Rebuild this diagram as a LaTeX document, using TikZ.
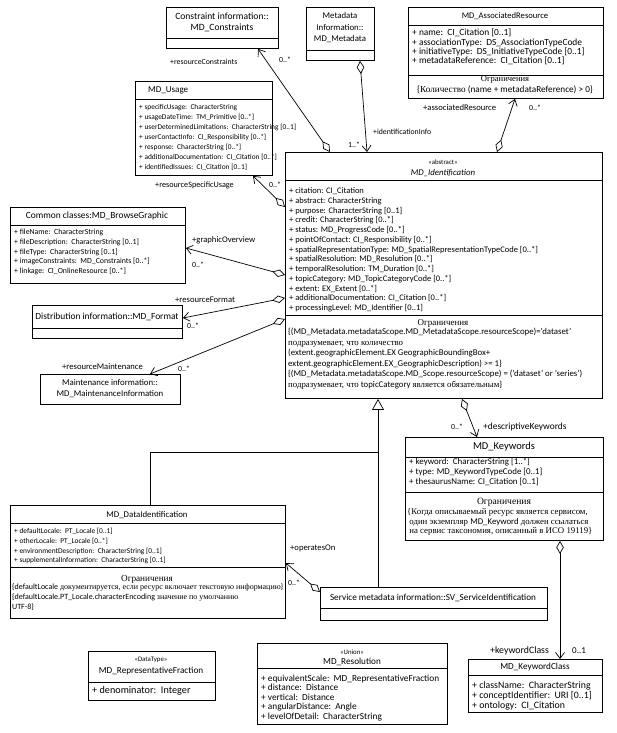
\documentclass[tikz,border=0pt]{standalone}
\usepackage{fontspec}
\setmainfont{Carlito}
\newfontfamily\rufont{Liberation Serif}
\usetikzlibrary{arrows.meta, calc}

% class box and compartment line
\newcommand{\clsbox}[5]{\node[cls, minimum width=#4pt, minimum height=#5pt] (#1) at (#2,#3) {};}
\newcommand{\divln}[2]{\draw[line width=0.9pt] ($(#1.north west)+(0,#2)$) -- ($(#1.north east)+(0,#2)$);}
\newcommand{\fsz}[2]{\fontsize{#1}{#2}\selectfont}

\tikzset{
  cls/.style={draw, line width=0.9pt, inner sep=0pt, anchor=north west},
  ttl/.style={font=\fsz{8.6}{9.75}, align=center, inner sep=0pt},
  stereo/.style={font=\fsz{6.8}{8}, inner sep=0pt},
  att/.style={font=\fsz{8}{9.75}, align=left, anchor=north west, inner sep=0pt},
  lbl/.style={font=\fsz{7.8}{9}, inner sep=0pt, anchor=west},
  assoc/.style={line width=0.7pt, {Diamond[open,length=13pt,width=7.5pt]}-{Straight Barb[length=6pt,width=9pt]}},
  gen/.style={line width=0.7pt, -{Triangle[open,length=11pt,width=12pt]}},
}

\begin{document}
\begin{tikzpicture}[x=1pt, y=-1pt]
\useasboundingbox (0,0) rectangle (616,733);

% boxes
\clsbox{cons}{166}{7}{112}{41}
\divln{cons}{31}
\clsbox{meta}{306}{7}{68}{53}
\divln{meta}{43}
\clsbox{assoc}{408}{7}{195}{91}
\divln{assoc}{18}
\divln{assoc}{68}
\clsbox{usage}{135}{81}{137}{94}
\divln{usage}{18}
\clsbox{ident}{285}{152}{317}{246}
\divln{ident}{28}
\divln{ident}{163}
\clsbox{browse}{10}{207}{175}{76}
\divln{browse}{18}
\clsbox{format}{32}{305}{150}{33}
\divln{format}{23}
\clsbox{maint}{40}{374}{140}{30}
\clsbox{keyw}{405}{437}{198}{103}
\divln{keyw}{20}
\divln{keyw}{55}
\clsbox{dataid}{10}{505}{275}{113}
\divln{dataid}{18}
\divln{dataid}{62}
\clsbox{serv}{320}{587}{227}{33}
\divln{serv}{21}
\clsbox{repfrac}{88}{651}{127}{49}
\divln{repfrac}{31}
\clsbox{resol}{257}{643}{190}{81}
\divln{resol}{25}
\clsbox{kwclass}{468}{659}{134}{53}
\divln{kwclass}{16}

% titles
\node[ttl, font=\fsz{9.6}{10.5}] (consT) at (222,22.5) {Constraint information::\\MD\_Constraints};
\node[ttl, font=\fsz{8.8}{11.5}] (metaT) at (340,28) {Metadata\\Information::\\MD\_Metadata};
\node[ttl] (assocT) at (505,16) {MD\_AssociatedResource};
\node[ttl, anchor=west, font=\fsz{9}{10}] (usageT) at (148,90) {MD\_Usage};
\node[stereo] (identS) at (443,162) {«abstract»};
\node[ttl, font=\fsz{8.8}{9.75}\itshape] (identT) at (443,173) {MD\_Identification};
\node[ttl, font=\fsz{9.4}{10}] (browseT) at (97,216) {Common classes:MD\_BrowseGraphic};
\node[ttl, font=\fsz{9.4}{10}] (formatT) at (107,317) {Distribution information::MD\_Format};
\node[ttl, font=\fsz{8.8}{11}] (maintT) at (110,389) {Maintenance information::\\MD\_MaintenanceInformation};
\node[ttl, font=\fsz{10.5}{11}] (keywT) at (504,447) {MD\_Keywords};
\node[ttl, font=\fsz{8.8}{10}] (dataidT) at (147,515) {MD\_DataIdentification};
\node[ttl, font=\fsz{9.2}{11}] (servT) at (433,598) {Service metadata information::SV\_ServiceIdentification};
\node[stereo] (repfracS) at (151,660) {«DataType»};
\node[ttl, font=\fsz{9.2}{10}] (repfracT) at (151,671) {MD\_RepresentativeFraction};
\node[stereo] (resolS) at (352,652) {«Union»};
\node[ttl, font=\fsz{9.2}{10}] (resolT) at (352,662) {MD\_Resolution};
\node[ttl, font=\fsz{9.2}{10}] (kwclassT) at (535,667) {MD\_KeywordClass};

% attributes
\node[att, font=\fsz{9.4}{9.3}] (assocA) at (412,29) {+ name:\ \ CI\_Citation [0..1]\\
+ associationType:\ \ DS\_AssociationTypeCode\\
+ initiativeType:\ \ DS\_InitiativeTypeCode [0..1]\\
+ metadataReference:\ \ CI\_Citation [0..1]};
\node[ttl, font=\fsz{8.6}{9}] (assocC) at (505,80) {\rufont Ограничения};
\node[ttl, font=\fsz{9.2}{9}] (assocR) at (505,90) {\{{\rufont Количество} (name + metadataReference) > 0\}};

\node[att, font=\fsz{7.4}{10}] (usageA) at (139,104) {+ specificUsage:\ \ CharacterString\\
+ usageDateTime:\ \ TM\_Primitive [0..*]\\
+ userDeterminedLimitations:\ \ CharacterString [0..1]\\
+ userContactInfo:\ \ CI\_Responsibility [0..*]\\
+ response:\ \ CharacterString [0..*]\\
+ additionalDocumentation:\ \ CI\_Citation [0..*]\\
+ identifiedIssues:\ \ CI\_Citation [0..1]};

\node[att, font=\fsz{8.5}{9.75}] (identA) at (289,187.5) {+ citation: CI\_Citation\\
+ abstract: CharacterString\\
+ purpose: CharacterString [0..1]\\
+ credit: CharacterString [0..*]\\
+ status: MD\_ProgressCode [0..*]\\
+ pointOfContact: CI\_Responsibility [0..*]\\
+ spatialRepresentationType: MD\_SpatialRepresentationTypeCode [0..*]\\
+ spatialResolution: MD\_Resolution [0..*]\\
+ temporalResolution: TM\_Duration [0..*]\\
+ topicCategory: MD\_TopicCategoryCode [0..*]\\
+ extent: EX\_Extent [0..*]\\
+ additionalDocumentation: CI\_Citation [0..*]\\
+ processingLevel: MD\_Identifier [0..1]};
\node[ttl, font=\fsz{9}{9}] (identC) at (443,323) {\rufont Ограничения};
\node[att, font=\fsz{8.8}{10.5}] (identR) at (288,328) {\{(MD\_Metadata.metadataScope.MD\_MetadataScope.resourceScope)='dataset'\\
{\rufont подразумевает, что количество}\\
(extent.geographicElement.EX GeographicBoundingBox+\\
extent.geographicElement.EX\_GeographicDescription) >= 1\}\\
\{(MD\_Metadata.metadataScope.MD\_Scope.resourceScope) = ('dataset' or 'series')\\
{\rufont подразумевает, что} topicCategory {\rufont является обязательным}\}};

\node[att, font=\fsz{7.8}{9.75}] (browseA) at (14,229) {+ fileName:\ \ CharacterString\\
+ fileDescription:\ \ CharacterString [0..1]\\
+ fileType:\ \ CharacterString [0..1]\\
+ imageConstraints:\ \ MD\_Constraints [0..*]\\
+ linkage:\ \ CI\_OnlineResource [0..*]};

\node[att, font=\fsz{8.9}{10}] (keywA) at (409,457.5) {+ keyword:\ \ CharacterString [1..*]\\
+ type: MD\_KeywordTypeCode [0..1]\\
+ thesaurusName: CI\_Citation [0..1]};
\node[ttl, font=\fsz{9.6}{9}] (keywC) at (504,502) {\rufont Ограничения};
\node[att, font=\rufont\fsz{8.8}{9.5}] (keywR) at (407,508.5) {\{Когда описываемый ресурс является сервисом,\\
\ один экземпляр {\rmfamily MD\_Keyword} должен ссылаться\\
\ на сервис таксономия, описанный в ИСО 19119\}};

\node[att, font=\fsz{7.4}{9.8}] (dataidA) at (14,528) {+ defaultLocale:\ \ PT\_Locale [0..1]\\
+ otherLocale:\ \ PT\_Locale [0..*]\\
+ environmentDescription:\ \ CharacterString [0..1]\\
+ supplementalInformation:\ \ CharacterString [0..1]};
\node[ttl, font=\fsz{9.2}{9}] (dataidC) at (147,579) {\rufont Ограничения};
\node[att, font=\fsz{8}{10}] (dataidR) at (12,584) {\{defaultLocale {\rufont документируется, если ресурс включает текстовую информацию}\}\\
\{defaultLocale.PT\_Locale.characterEncoding {\rufont значение по умолчанию}\\
UTF-8\}};

\node[att, font=\fsz{10.2}{10}] (repfracA) at (92,686.5) {+ denominator:\ \ Integer};
\node[att, font=\fsz{9.3}{9.6}] (resolA) at (261,674.5) {+ equivalentScale:\ \ MD\_RepresentativeFraction\\
+ distance:\ \ Distance\\
+ vertical:\ \ Distance\\
+ angularDistance:\ \ Angle\\
+ levelOfDetail:\ \ CharacterString};
\node[att, font=\fsz{9.8}{10}] (kwclassA) at (472,681.5) {+ className:\ \ CharacterString\\
+ conceptIdentifier:\ \ URI [0..1]\\
+ ontology:\ \ CI\_Citation};

% associations
\draw[assoc] (330,0 |- ident.north) -- (258,0 |- cons.south);
\draw[assoc] (360,0 |- meta.south) -- (367,0 |- ident.north);
\draw[assoc] (497,0 |- ident.north) -- (515,0 |- assoc.south);
\draw[assoc] (ident.west |- 0,207) -- (253,0 |- usage.south);
\draw[assoc] (ident.west |- 0,275) -- (browse.east |- 0,248);
\draw[assoc] (ident.west |- 0,298) -- (format.east |- 0,318);
\draw[assoc] (ident.west |- 0,319) -- (150,0 |- maint.north);
\draw[assoc] (462,0 |- ident.south) -- (477,0 |- keyw.north);
\draw[assoc] (serv.west |- 0,592) -- (dataid.east |- 0,563);
\draw[assoc] (560,0 |- keyw.south) -- (560,0 |- kwclass.north);

% generalization
\draw[gen] (378,0 |- serv.north) -- (378,0 |- ident.south);
\draw[line width=0.7pt] (150,0 |- dataid.north) |- (378,452);

% role names and multiplicities
\node[lbl] (rcL) at (170,62) {+resourceConstraints};
\node[lbl] (rcM) at (279,60) {0..*};
\node[lbl] (iiL) at (373,132) {+identificationInfo};
\node[lbl] (iiM) at (348,145) {1..*};
\node[lbl, font=\fsz{8.6}{9}] (arL) at (423,108) {+associatedResource};
\node[lbl] (arM) at (529,108) {0..*};
\node[lbl, font=\fsz{8.2}{9}] (rsL) at (155,185) {+resourceSpecificUsage};
\node[lbl] (rsM) at (269,185) {0..*};
\node[lbl, font=\fsz{8.6}{9}] (goL) at (192,240) {+graphicOverview};
\node[lbl] (goM) at (192,265) {0..*};
\node[lbl, font=\fsz{8.6}{9}] (rfL) at (175,300) {+resourceFormat};
\node[lbl] (rfM) at (187,326) {0..*};
\node[lbl, font=\fsz{8.6}{9}] (rmL) at (62,367) {+resourceMaintenance};
\node[lbl] (rmM) at (178,369) {0..*};
\node[lbl] (dkM) at (451,427) {0..*};
\node[lbl, font=\fsz{9.4}{9}] (dkL) at (483,427) {+descriptiveKeywords};
\node[lbl, font=\fsz{8.6}{9}] (ooL) at (290,548) {+operatesOn};
\node[lbl] (ooM) at (288,583) {0..*};
\node[lbl, font=\fsz{9.8}{9}] (kcL) at (490,651) {+keywordClass};
\node[lbl, font=\fsz{9}{9}] (kcM) at (572,651) {0..1};
\end{tikzpicture}
\end{document}
